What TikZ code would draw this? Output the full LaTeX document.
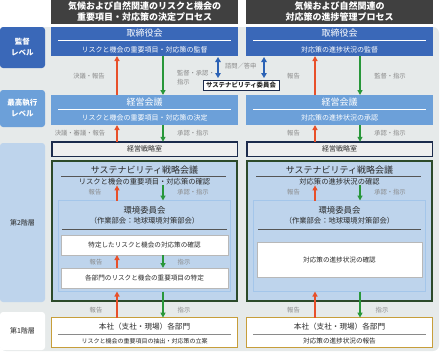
\documentclass[tikz,border=0pt]{standalone}
\usepackage{fontspec}
\setmainfont{Noto Sans CJK JP}
\usetikzlibrary{arrows.meta, calc}
\definecolor{headcol}{HTML}{404040}
\definecolor{boardcol}{HTML}{3A68B8}
\definecolor{execcol}{HTML}{6CA0D9}
\definecolor{tierfill}{HTML}{BED4EC}
\definecolor{tiercol}{HTML}{2C4A2A}
\definecolor{envcol}{HTML}{A4C6EA}
\definecolor{taskcol}{HTML}{B8B8B8}
\definecolor{stratcol}{HTML}{1C2B4C}
\definecolor{stratfill}{HTML}{EFEFEF}
\definecolor{deptcol}{HTML}{C79E3A}
\definecolor{panelcol}{HTML}{E6EAEA}
\definecolor{labelcol}{HTML}{8A8A8A}
\definecolor{textcol}{HTML}{2A2A2A}
\definecolor{upcol}{HTML}{E8502A}
\definecolor{downcol}{HTML}{28973A}
\definecolor{askcol}{HTML}{2B62B5}

\begin{document}
\begin{tikzpicture}[
    x=1pt, y=-1pt,
    every node/.style={inner sep=0pt, outer sep=0pt},
    headbox/.style={
        fill=headcol, text=white, minimum width=187pt, minimum height=24pt,
        align=center, font=\fontsize{9}{11}\selectfont\bfseries,
    },
    lvlbox/.style={
        rounded corners=3pt, minimum width=45pt, align=center,
        font=\fontsize{7.5}{11}\selectfont\bfseries,
    },
    boardbox/.style={fill=boardcol, minimum width=187pt, minimum height=29pt},
    execbox/.style={fill=execcol, minimum width=187pt, minimum height=30pt},
    stratbox/.style={
        draw=stratcol, fill=stratfill, line width=1.5pt, text=textcol,
        minimum width=185.5pt, minimum height=14.5pt, font=\fontsize{7}{8}\selectfont,
    },
    tierbox/.style={
        draw=tiercol, fill=tierfill, line width=1.6pt,
        minimum width=185.4pt, minimum height=140.4pt,
    },
    envbox/.style={draw=envcol, fill=tierfill, line width=1pt, minimum height=91pt},
    taskbox/.style={
        draw=taskcol, fill=white, line width=0.5pt, text=textcol,
        font=\fontsize{6.6}{8}\selectfont,
    },
    deptbox/.style={
        draw=deptcol, fill=white, line width=1.2pt,
        minimum width=185.8pt, minimum height=29.8pt,
    },
    committee/.style={
        draw=stratcol, fill=white, line width=0.7pt, text=textcol,
        minimum width=76pt, minimum height=10pt, font=\fontsize{6.4}{7}\selectfont\bfseries,
    },
    wtitle/.style={text=white, font=\fontsize{9}{10}\selectfont},
    wsub/.style={text=white, font=\fontsize{7}{8}\selectfont},
    btitle/.style={text=textcol, font=\fontsize{9}{10}\selectfont},
    bsub/.style={text=textcol, font=\fontsize{7.3}{8}\selectfont},
    lbl/.style={text=labelcol, font=\fontsize{6.3}{9.5}\selectfont, align=left},
    sepw/.style={draw=white, line width=0.6pt},
    sepd/.style={draw=textcol!80, line width=0.6pt},
    sepg/.style={draw=labelcol, line width=0.6pt},
    uparr/.style={-{Triangle[length=5pt, width=5pt]}, line width=1.6pt, draw=upcol, fill=upcol},
    dnarr/.style={-{Triangle[length=5pt, width=5pt]}, line width=1.6pt, draw=downcol, fill=downcol},
    askarr/.style={{Triangle[length=5pt, width=5.5pt]}-{Triangle[length=5pt, width=5.5pt]},
        line width=1.8pt, draw=askcol, fill=askcol},
]
\useasboundingbox (0,0) rectangle (442,354);

% === Background panel ===
\fill[panelcol, rounded corners=6pt] (0,27) rectangle (439,351);

% === Column headers ===
\node[headbox] (headL) at (144.5,12) {気候および自然関連のリスクと機会の\\重要項目・対応策の決定プロセス};
\node[headbox] (headR) at (339.5,12) {気候および自然関連の\\対応策の進捗管理プロセス};

% === Level labels (left column) ===
\node[lvlbox, fill=boardcol, text=white, minimum height=41pt] (lvlsup) at (22.5,47.5) {監督\\レベル};
\node[lvlbox, fill=execcol, text=white, minimum height=37pt] (lvlexec) at (22.5,108.5) {最高執行\\レベル};
\node[lvlbox, fill=tierfill, text=textcol, minimum height=159pt,
      font=\fontsize{7}{9}\selectfont] (lvltwo) at (22.5,222.5) {第2階層};
\node[lvlbox, fill=white, text=textcol, minimum height=38pt,
      font=\fontsize{7}{9}\selectfont] (lvlone) at (22.5,331) {第1階層};

% === Coordinates of the vertical connectors ===
\coordinate (redL) at (117,0);
\coordinate (grnL) at (163,0);
\coordinate (redR) at (315,0);
\coordinate (grnR) at (360,0);
\coordinate (askL) at (218,0);
\coordinate (askR) at (264,0);

% === Board of directors ===
\node[boardbox] (boardL) at (144.5,41.5) {};
\node[boardbox] (boardR) at (339.5,41.5) {};
\node[wtitle] at (144.5,33.5) {取締役会};
\node[wtitle] at (339.5,33.5) {取締役会};
\draw[sepw] (58,40.5) -- (231,40.5);
\draw[sepw] (253,40.5) -- (426,40.5);
\node[wsub] at (144.5,49.5) {リスクと機会の重要項目・対応策の監督};
\node[wsub] at (339.5,49.5) {対応策の進捗状況の監督};

% === Management meeting ===
\node[execbox] (execL) at (144.5,110) {};
\node[execbox] (execR) at (339.5,110) {};
\node[wtitle] at (144.5,102.5) {経営会議};
\node[wtitle] at (339.5,102.5) {経営会議};
\draw[sepw] (58,109) -- (231,109);
\draw[sepw] (253,109) -- (426,109);
\node[wsub] at (144.5,117.5) {リスクと機会の重要項目・対応策の決定};
\node[wsub] at (339.5,117.5) {対応策の進捗状況の承認};

% === Sustainability committee ===
\node[committee] (sustc) at (241,85) {サステナビリティ委員会};

% === Corporate strategy office ===
\node[stratbox] (stratL) at (144.5,149) {経営戦略室};
\node[stratbox] (stratR) at (339.5,149) {経営戦略室};

% === Second tier ===
\node[tierbox] (tierL) at (144.5,231) {};
\node[tierbox] (tierR) at (339.5,231) {};
\node[btitle] at (144.5,170) {サステナビリティ戦略会議};
\node[btitle] at (339.5,170) {サステナビリティ戦略会議};
\draw[sepd] (61,176.5) -- (226,176.5);
\draw[sepd] (256,176.5) -- (421,176.5);
\node[bsub] (s2subL) at (144.5,182) {リスクと機会の重要項目・対応策の確認};
\node[bsub] (s2subR) at (339.5,182) {対応策の進捗状況の確認};

% Environment committee
\node[envbox, minimum width=172pt] (envL) at (144.5,246) {};
\node[envbox, minimum width=172pt] (envR) at (339.5,246) {};
\node[btitle, font=\fontsize{8.4}{9}\selectfont] at (144.5,210) {環境委員会};
\node[btitle, font=\fontsize{8.4}{9}\selectfont] at (339.5,210) {環境委員会};
\node[bsub] at (144.5,221) {（作業部会：地球環境対策部会）};
\node[bsub] at (339.5,221) {（作業部会：地球環境対策部会）};
\draw[sepd] (62,229) -- (227,229);
\draw[sepd] (258,229) -- (421,229);
\node[taskbox, minimum width=167pt, minimum height=20pt] (taskLa) at (144.5,245) {特定したリスクと機会の対応策の確認};
\node[taskbox, minimum width=167pt, minimum height=20pt] (taskLb) at (144.5,278) {各部門のリスクと機会の重要項目の特定};
\node[taskbox, minimum width=165pt, minimum height=35pt] (taskR) at (339.5,260) {対応策の進捗状況の確認};

% === First tier ===
\node[deptbox] (deptL) at (144.5,332.5) {};
\node[deptbox] (deptR) at (339.5,332.5) {};
\node[btitle, font=\fontsize{7.6}{9}\selectfont] at (144.5,326.5) {本社（支社・現場）各部門};
\node[btitle, font=\fontsize{7.6}{9}\selectfont] at (339.5,326.5) {本社（支社・現場）各部門};
\draw[sepg] (58,334) -- (231,334);
\draw[sepg] (253,334) -- (426,334);
\node[bsub, font=\fontsize{6}{7}\selectfont] at (144.5,341) {リスクと機会の重要項目の抽出・対応策の立案};
\node[bsub, font=\fontsize{6.6}{7}\selectfont] at (339.5,341) {対応策の進捗状況の報告};

% === Connectors: board <-> management ===
\draw[uparr] (execL.north -| redL) -- (boardL.south -| redL);
\draw[dnarr] (boardL.south -| grnL) -- (execL.north -| grnL);
\draw[uparr] (execR.north -| redR) -- (boardR.south -| redR);
\draw[dnarr] (boardR.south -| grnR) -- (execR.north -| grnR);
\draw[askarr, shorten <=1pt, shorten >=2pt] (boardL.south -| askL) -- (sustc.north -| askL);
\draw[askarr, shorten <=1pt, shorten >=2pt] (boardR.south -| askR) -- (sustc.north -| askR);
\node[lbl] at (89,76) {決議・報告};
\node[lbl, anchor=west] at (177,77.5) {監督・承認・\\指示};
\node[lbl, anchor=west] at (225,66) {諮問／答申};
\node[lbl] at (293.5,76) {報告};
\node[lbl] at (390,76) {監督・指示};

% === Connectors: management <-> strategy office ===
\draw[uparr] (stratL.north -| redL) -- (execL.south -| redL);
\draw[dnarr] (execL.south -| grnL) -- (stratL.north -| grnL);
\draw[uparr] (stratR.north -| redR) -- (execR.south -| redR);
\draw[dnarr] (execR.south -| grnR) -- (stratR.north -| grnR);
\node[lbl] at (80,133) {決議・審議・報告};
\node[lbl] at (193,133) {承認・指示};
\node[lbl] at (293.5,133) {報告};
\node[lbl] at (390,133) {承認・指示};

% === Connectors inside the second tier ===
\draw[uparr] (envL.north -| redL) -- (s2subL.south -| redL);
\draw[dnarr] (s2subL.south -| grnL) -- (envL.north -| grnL);
\draw[uparr] (envR.north -| redR) -- (s2subR.south -| redR);
\draw[dnarr] (s2subR.south -| grnR) -- (envR.north -| grnR);
\node[lbl] at (95,192) {報告};
\node[lbl] at (193,192) {承認・指示};
\node[lbl] at (293.5,192) {報告};
\node[lbl] at (390,192) {承認・指示};

\draw[uparr] (taskLb.north -| redL) -- (taskLa.south -| redL);
\draw[dnarr] (taskLa.south -| grnL) -- (taskLb.north -| grnL);
\node[lbl] at (96,262) {報告};
\node[lbl] at (184,262) {指示};

% === Connectors: second tier <-> first tier ===
\draw[uparr] (deptL.north -| redL) -- (envL.south -| redL);
\draw[dnarr] (envL.south -| grnL) -- (deptL.north -| grnL);
\draw[uparr] (deptR.north -| redR) -- (envR.south -| redR);
\draw[dnarr] (envR.south -| grnR) -- (deptR.north -| grnR);
\node[lbl] at (96,310) {報告};
\node[lbl] at (184,310) {指示};
\node[lbl] at (293.5,310) {報告};
\node[lbl] at (382,310) {指示};

\end{tikzpicture}
\end{document}
